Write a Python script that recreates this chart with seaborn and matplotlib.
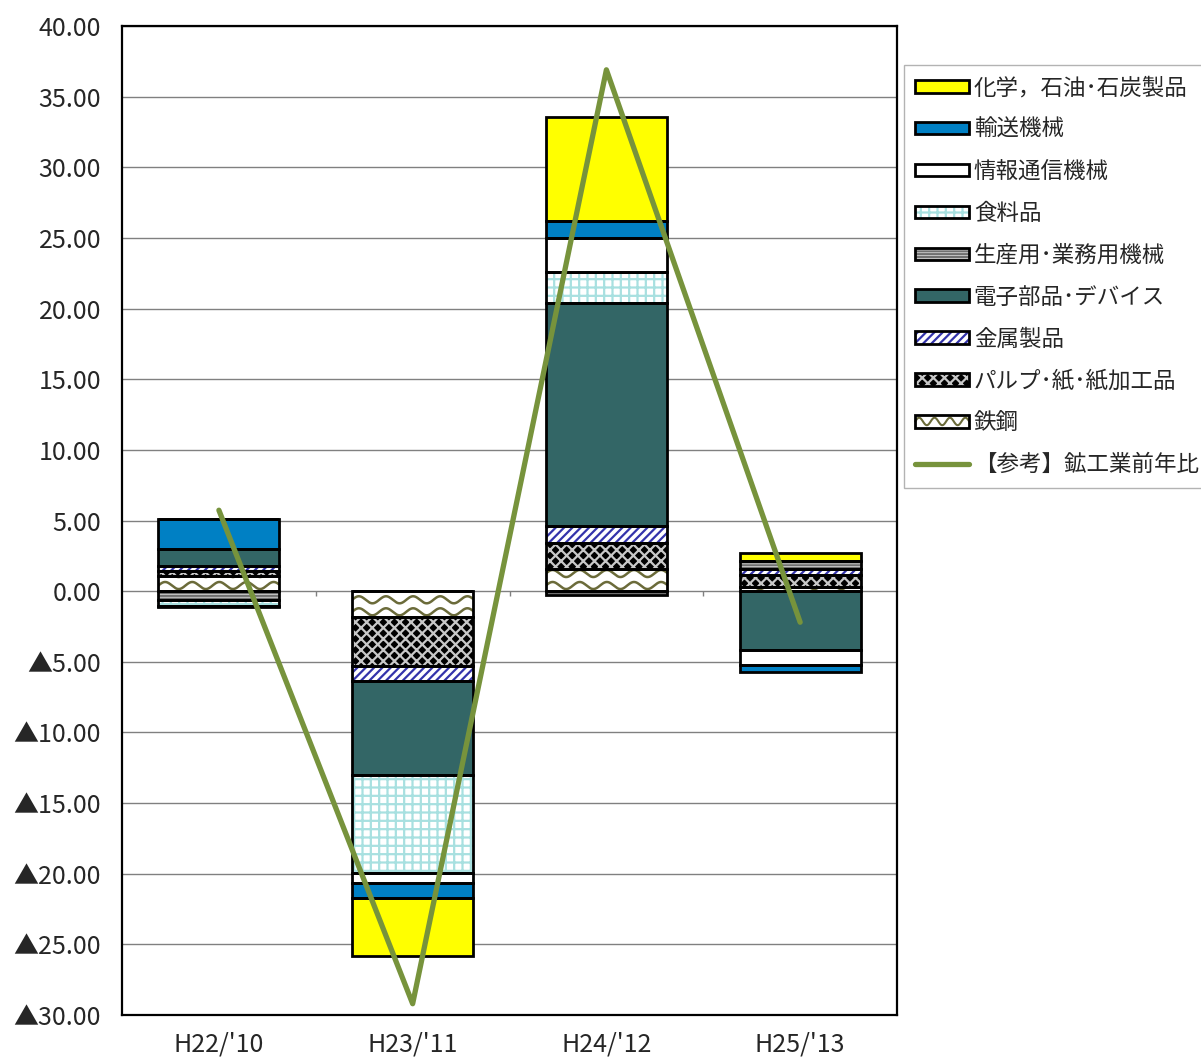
import numpy as np
import pandas as pd
import matplotlib
matplotlib.use("Agg")
import matplotlib.pyplot as plt
import seaborn as sns
from matplotlib.patches import Patch, Rectangle
from matplotlib.lines import Line2D
from matplotlib.legend_handler import HandlerTuple, HandlerBase

# data
years = ["H22/'10", "H23/'11", "H24/'12", "H25/'13"]

# stacking order (bottom -> top), legend is shown reversed
tekko   = [1.10, -1.86, 1.60, 0.30]    # 鉄鋼
pulp    = [0.30, -3.45, 1.80, 0.83]    # パルプ・紙・紙加工品
kinzoku = [0.40, -1.06, 1.20, 0.47]    # 金属製品
denshi  = [1.20, -6.66, 15.80, -4.18]  # 電子部品・デバイス
seisan  = [-0.65, 0.00, -0.25, 0.50]   # 生産用・業務用機械
shokuryo = [-0.40, -6.91, 2.20, 0.05]  # 食料品
joho    = [-0.05, -0.71, 2.40, -1.06]  # 情報通信機械
yuso    = [2.10, -1.04, 1.20, -0.47]   # 輸送機械
kagaku  = [0.00, -4.15, 7.35, 0.56]    # 化学，石油・石炭製品

kogyo = [5.73, -29.2, 36.9, -2.2]      # 【参考】鉱工業前年比

names = ["鉄鋼", "パルプ･紙･紙加工品", "金属製品", "電子部品･デバイス",
         "生産用･業務用機械", "食料品", "情報通信機械", "輸送機械", "化学，石油･石炭製品"]
values = [tekko, pulp, kinzoku, denshi, seisan, shokuryo, joho, yuso, kagaku]

WAVE = "#6b6b3a"
# fill colour, hatch, hatch colour
styles = [
    ("white",   None,     WAVE),        # 鉄鋼 (wavy drawn by hand)
    ("black",   "xxx",    "#c8c8c8"),
    ("white",   "////",   "#3333aa"),
    ("#336666", None,     "black"),
    ("white",   "------", "#707070"),
    ("white",   "++",     "#a8e0e0"),
    ("white",   None,     "black"),
    ("#0080c4", None,     "black"),
    ("#ffff00", None,     "black"),
]


class WaveHandler(HandlerBase):
    def create_artists(self, legend, orig_handle, xdescent, ydescent,
                       width, height, fontsize, trans):
        x0, y0 = -xdescent, -ydescent
        fill = Rectangle((x0, y0), width, height, facecolor="white",
                         edgecolor="none", transform=trans)
        xs = np.linspace(x0, x0 + width, 80)
        ys = y0 + height * 0.5 + height * 0.3 * np.sin(2 * np.pi * (xs - x0) / (width / 3.5))
        wave = Line2D(xs, ys, color=WAVE, linewidth=1.5, transform=trans)
        edge = Rectangle((x0, y0), width, height, facecolor="none",
                         edgecolor="black", linewidth=2, transform=trans)
        return [fill, wave, edge]


sns.set_style("white")
plt.rcParams["font.family"] = ["Noto Sans CJK JP", "DejaVu Sans"]
plt.rcParams["hatch.linewidth"] = 1.6

fig = plt.figure(figsize=(12.01, 10.57), dpi=100)
ax = fig.add_axes([0.1016, 0.0397, 0.6453, 0.9357])

x = np.arange(len(years))
width = 0.625
pos_base = np.zeros(len(years))
neg_base = np.zeros(len(years))
containers = []
for vals, (fc, hatch, hc) in zip(values, styles):
    v = np.array(vals)
    bottom = np.where(v >= 0, pos_base, neg_base)
    ax.bar(x, v, width, bottom=bottom, color=fc, hatch=hatch, edgecolor=hc,
           linewidth=0, zorder=2)
    bc = ax.bar(x, v, width, bottom=bottom, fill=False, edgecolor="black",
                linewidth=2, zorder=3)
    containers.append(bc)
    pos_base = pos_base + np.where(v >= 0, v, 0)
    neg_base = neg_base + np.where(v < 0, v, 0)

# wavy pattern for 鉄鋼
for rect in containers[0].patches:
    x0, y0, w, h = rect.get_x(), rect.get_y(), rect.get_width(), rect.get_height()
    if abs(h) < 1e-6:
        continue
    lo, hi = min(y0, y0 + h), max(y0, y0 + h)
    xs = np.linspace(x0, x0 + w, 300)
    for yc in np.arange(lo + 0.4, hi + 0.45, 0.85):
        ln, = ax.plot(xs, yc + 0.25 * np.sin(2 * np.pi * (xs - x0) / 0.14),
                      color=WAVE, linewidth=1.8, zorder=2.5)
        ln.set_clip_path(rect)

# reference line
df = pd.DataFrame({"x": x, "y": kogyo})
sns.lineplot(data=df, x="x", y="y", ax=ax, color="#77933c", linewidth=3.8,
             zorder=4, legend=False)

# category ticks on the zero line
ax.vlines(x[:-1] + 0.5, -0.35, 0, color="#808080", linewidth=1, zorder=1)

ax.set_xlim(-0.5, len(years) - 0.5)
ax.set_ylim(-30, 40)
yt = np.arange(-30, 41, 5)
ax.set_yticks(yt)
ax.set_yticklabels([f"{t:.2f}" if t >= 0 else f"▲{-t:.2f}" for t in yt], fontsize=18)
ax.set_xticks(x)
ax.set_xticklabels(years, fontsize=18)
ax.tick_params(axis="y", length=0, pad=15)
ax.tick_params(axis="x", length=0, pad=12)
ax.set_xlabel("")
ax.set_ylabel("")
ax.yaxis.grid(True, color="#808080", linewidth=1, zorder=0)
ax.set_axisbelow(True)
for s in ax.spines.values():
    s.set_color("black")
    s.set_linewidth(1.6)

# legend
handles = []
labels = []
hmap = {tuple: HandlerTuple(ndivide=1)}
for name, (fc, hatch, hc) in zip(names[::-1], styles[::-1]):
    if name == "鉄鋼":
        h = Patch(facecolor="white")
        hmap[h] = WaveHandler()
        handles.append(h)
    else:
        fill = Patch(facecolor=fc, hatch=hatch, edgecolor=hc, linewidth=0)
        edge = Patch(facecolor="none", edgecolor="black", linewidth=2)
        handles.append((fill, edge))
    labels.append(name)
handles.append(Line2D([0], [0], color="#77933c", linewidth=3.8))
labels.append("【参考】鉱工業前年比")

leg = fig.legend(handles, labels, loc="upper left", bbox_to_anchor=(0.7527, 0.9385),
                 fontsize=16.2, frameon=True, fancybox=False, edgecolor="#a0a0a0",
                 handlelength=2.4, handleheight=0.48, handletextpad=0.2,
                 labelspacing=0.84, borderpad=0.5, borderaxespad=0,
                 handler_map=hmap)
leg.get_frame().set_linewidth(1)

fig.savefig("out.png", dpi=100)
